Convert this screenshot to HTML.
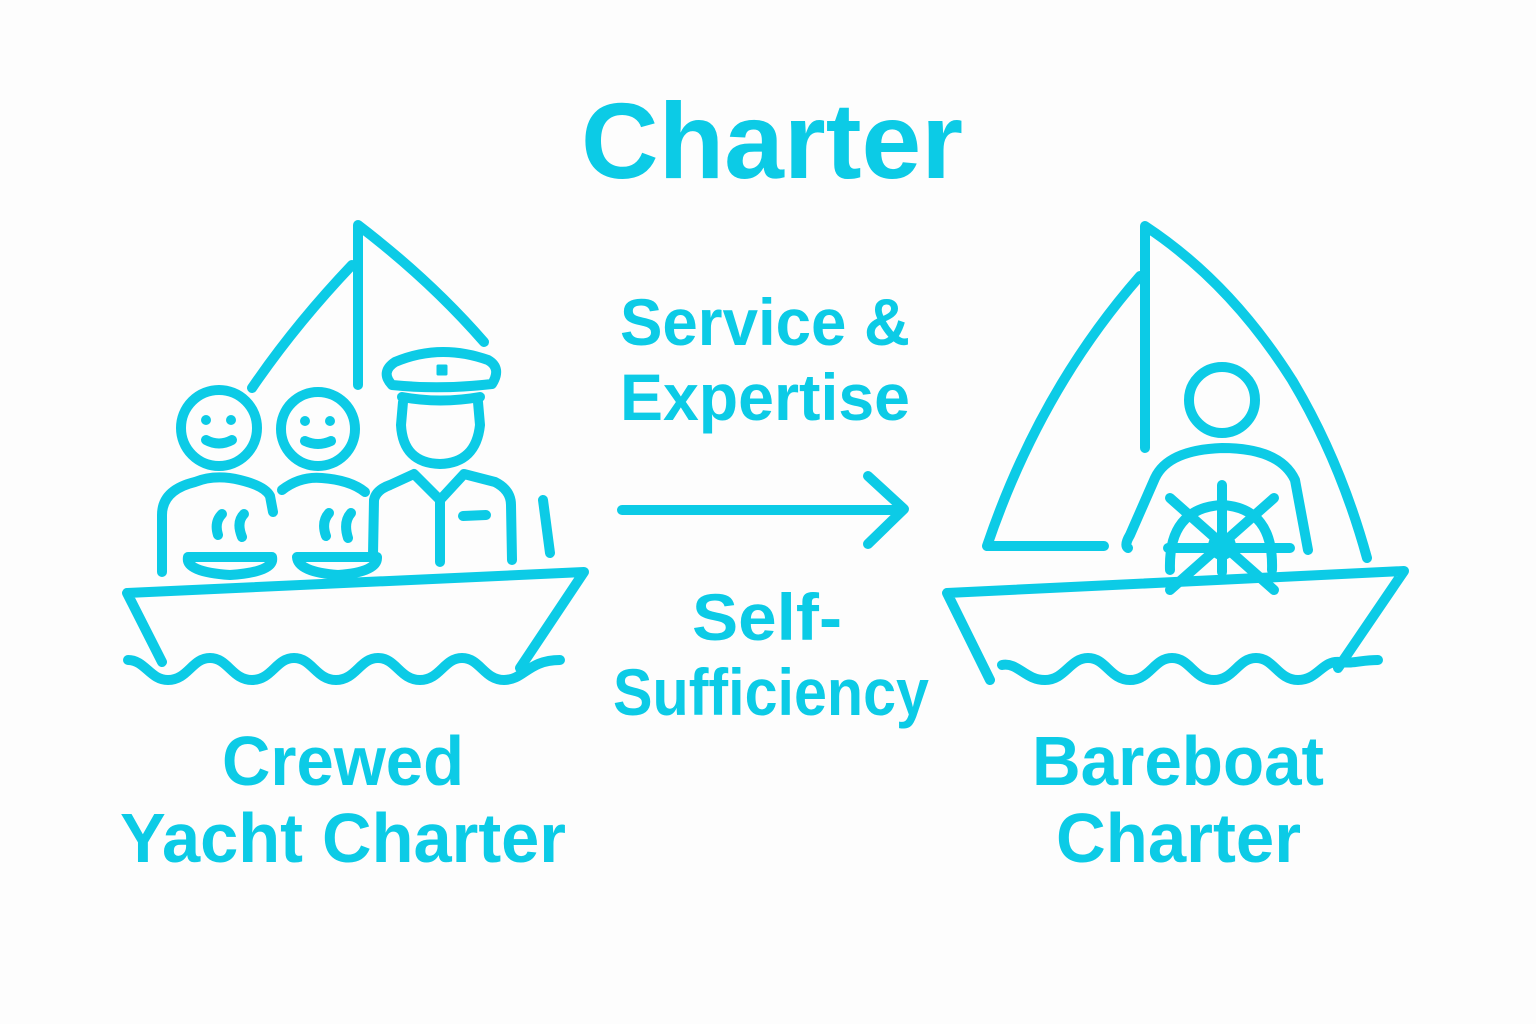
<!DOCTYPE html>
<html><head><meta charset="utf-8"><style>
html,body{margin:0;padding:0;background:#fdfdfd;}
svg{display:block}
text{font-family:"Liberation Sans",sans-serif;font-weight:bold;fill:#0ccbe6}
</style></head><body>
<svg width="1536" height="1024" viewBox="0 0 1536 1024">
<rect width="1536" height="1024" fill="#fdfdfd"/>
<text x="772" y="178" font-size="108" text-anchor="middle" textLength="382" lengthAdjust="spacingAndGlyphs">Charter</text>
<text x="620" y="345" font-size="66" textLength="290" lengthAdjust="spacingAndGlyphs">Service &amp;</text>
<text x="620" y="420" font-size="66" textLength="290" lengthAdjust="spacingAndGlyphs">Expertise</text>
<text x="692" y="640" font-size="66" textLength="150" lengthAdjust="spacingAndGlyphs">Self-</text>
<text x="613" y="715" font-size="66" textLength="316" lengthAdjust="spacingAndGlyphs">Sufficiency</text>
<text x="222" y="785" font-size="70" textLength="242" lengthAdjust="spacingAndGlyphs">Crewed</text>
<text x="120" y="862" font-size="70" textLength="446" lengthAdjust="spacingAndGlyphs">Yacht Charter</text>
<text x="1032" y="785" font-size="70" textLength="292" lengthAdjust="spacingAndGlyphs">Bareboat</text>
<text x="1056" y="862" font-size="70" textLength="245" lengthAdjust="spacingAndGlyphs">Charter</text>

<g fill="#0ccbe6">
<circle cx="206" cy="420" r="5"/><circle cx="231" cy="420" r="5"/>
<circle cx="305" cy="421" r="5"/><circle cx="330" cy="421" r="5"/>
</g>
<g fill="none" stroke="#0ccbe6" stroke-width="10" stroke-linecap="round" stroke-linejoin="round">
<path d="M622 510 L903 510 M868 476 L904 509 L868 544"/>
<path d="M358 385 L358 225 Q430 280 484 342"/>
<path d="M352 265 Q295 325 252 388"/>
<path d="M162 662 L127 593 L584 572 L520 668"/>
<path d="M128 660 C145 660 150 680 168 680 C188 680 192 658 210 658 C228 658 232 680 252 680 C272 680 276 658 294 658 C312 658 316 680 336 680 C356 680 360 658 378 658 C396 658 400 680 420 680 C440 680 444 658 462 658 C480 658 484 680 504 680 C524 680 528 660 560 660"/>
<circle cx="219" cy="428" r="38"/>
<path d="M206 440 Q219 447 232 440"/>
<path d="M162 572 L162 515 Q162 490 195 482 Q215 474 240 480 Q265 486 270 496 L273 512"/>
<circle cx="318" cy="429" r="37"/>
<path d="M305 441 Q318 447 331 441"/>
<path d="M282 490 Q300 476 322 478 Q350 480 365 492"/>
<path d="M188 557 L272 557 Q275 572 230 575 Q185 572 188 557 Z"/>
<path d="M297 557 L377 557 Q378 572 338 575 Q298 572 297 557 Z"/>
<path d="M222 514 Q214 522 218 535 M244 514 Q236 522 242 537"/>
<path d="M329 513 Q321 522 326 536 M351 513 Q343 522 348 538"/>
<path d="M392 385 Q380 372 395 362 Q440 343 488 360 Q502 368 492 384 Q440 390 392 385 Z"/>
<path d="M402 397 Q440 404 480 397"/>
<path d="M403 402 L401 425 Q403 463 440 464 Q476 463 480 425 L478 402"/>
<rect x="438" y="366" width="8" height="8" fill="#0ccbe6" stroke-width="3"/>
<path d="M373 555 L374 500 Q376 490 390 485 L414 474 L440 500 L464 474 L495 482 Q511 490 511 505 L512 560"/>
<path d="M440 500 L440 562 M463 516 L486 515"/>
<path d="M543 500 L550 553"/>
<path d="M1145 448 L1145 226 Q1230 282 1292 380 Q1340 460 1367 558"/>
<path d="M1140 276 Q1040 390 987 546 L1104 546"/>
<path d="M990 680 L947 593 L1404 571 L1338 668"/>
<path d="M1002 665 C1018 662 1025 680 1045 680 C1065 680 1070 658 1088 658 C1106 658 1110 680 1130 680 C1150 680 1154 658 1172 658 C1190 658 1194 680 1214 680 C1234 680 1238 658 1256 658 C1274 658 1278 680 1298 680 C1318 680 1322 660 1340 662 C1355 664 1360 660 1378 660"/>
<circle cx="1222" cy="400" r="33"/>
<path d="M1128 548 Q1124 545 1130 535 L1155 478 Q1168 450 1222 448 Q1280 448 1295 480 L1308 550"/>
<circle cx="1222" cy="546" r="9"/>
<path d="M1170 570 Q1168 508 1222 505 Q1274 508 1272 570"/>
<path d="M1222 485 L1222 572 M1170 498 L1274 590 M1274 498 L1170 590 M1168 548 L1290 548"/>
</g>
</svg>
</body></html>
